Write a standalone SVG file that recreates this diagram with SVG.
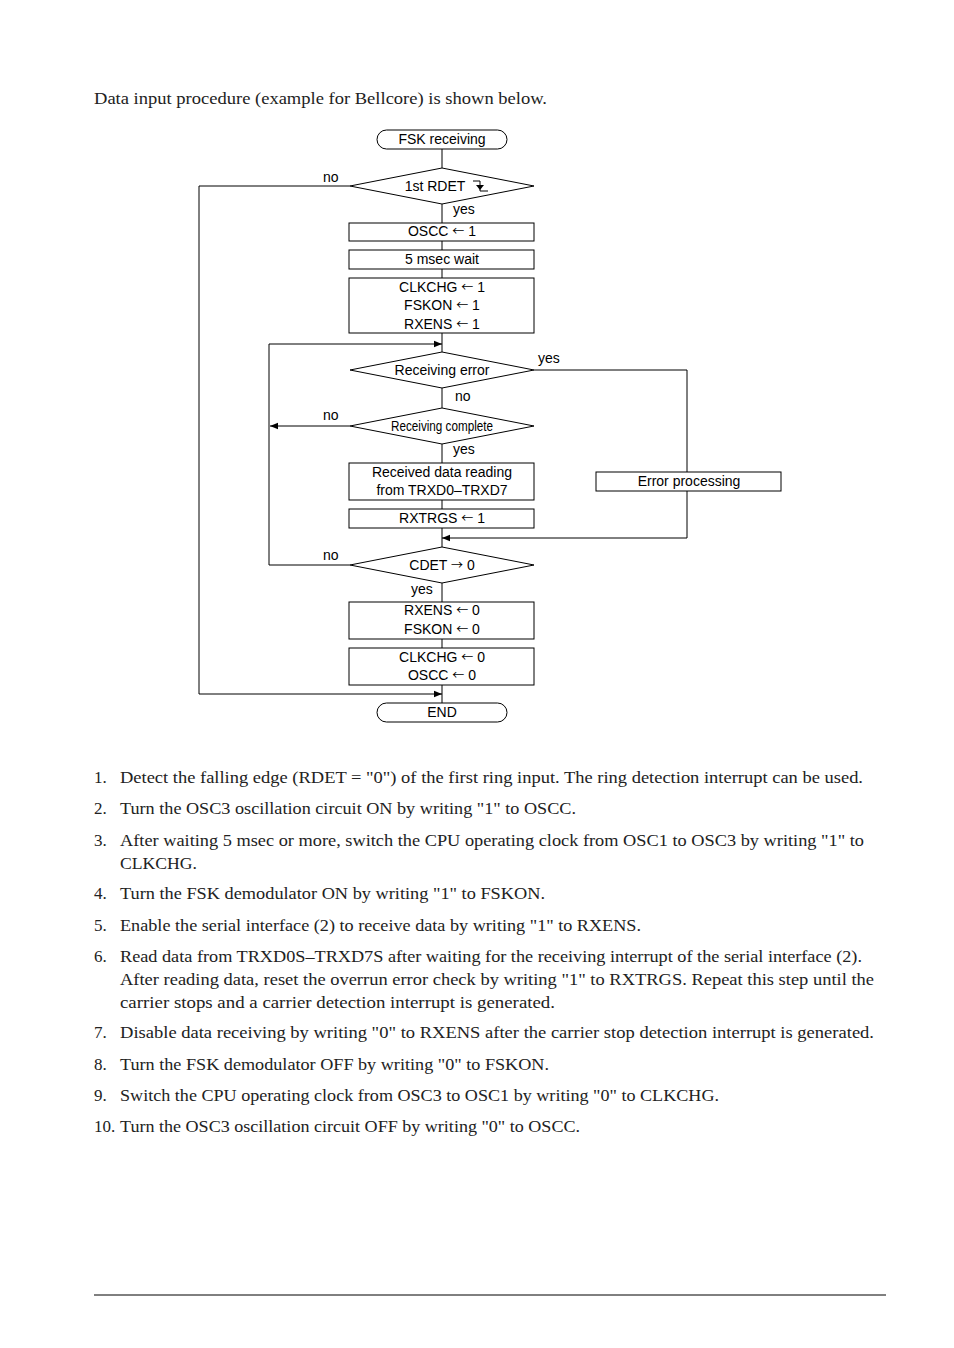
<svg xmlns="http://www.w3.org/2000/svg" width="954" height="1348" viewBox="0 0 954 1348">
<style>
.s{fill:#fff;stroke:#000;stroke-width:1}
.c{fill:none;stroke:#000;stroke-width:1}
.t{font-family:"Liberation Sans",Arial,sans-serif;font-size:14px;fill:#000;text-anchor:middle}
.l{font-family:"Liberation Sans",Arial,sans-serif;font-size:14px;fill:#000}
.p{font-family:"Liberation Serif","Times New Roman",serif;font-size:17px;fill:#222}
.ar{font-family:"Noto Sans CJK SC","DejaVu Sans",sans-serif;font-size:12px}
</style>
<defs>
<marker id="a" viewBox="0 0 10 10" refX="10" refY="5" markerWidth="10" markerHeight="8" markerUnits="userSpaceOnUse" orient="auto"><path d="M0,1 L10,5 L0,9 z" fill="#000"/></marker>
</defs>
<rect width="954" height="1348" fill="#fff"/>
<text class="p" x="94" y="104" textLength="453" lengthAdjust="spacingAndGlyphs">Data input procedure (example for Bellcore) is shown below.</text>

<g id="connectors">
<path class="c" d="M442,149 V168"/>
<path class="c" d="M442,204 V223"/>
<path class="c" d="M442,241 V250"/>
<path class="c" d="M442,269 V278"/>
<path class="c" d="M442,333 V352"/>
<path class="c" d="M442,388 V408"/>
<path class="c" d="M442,444 V463"/>
<path class="c" d="M442,500 V509"/>
<path class="c" d="M442,528 V547"/>
<path class="c" d="M442,583 V602"/>
<path class="c" d="M442,639 V648"/>
<path class="c" d="M442,685 V703"/>
<path class="c" d="M350,186 H199 V694 H442" marker-end="url(#a)"/>
<path class="c" d="M350,565 H269 V344 H442" marker-end="url(#a)"/>
<path class="c" d="M350,426 H270" marker-end="url(#a)"/>
<path class="c" d="M534,370 H687 V538 H442" marker-end="url(#a)"/>
<text class="l" x="323" y="182">no</text>
<text class="l" x="453" y="214">yes</text>
<text class="l" x="538" y="363">yes</text>
<text class="l" x="455" y="401">no</text>
<text class="l" x="323" y="420">no</text>
<text class="l" x="453" y="454">yes</text>
<text class="l" x="323" y="560">no</text>
<text class="l" x="411" y="594">yes</text>
</g>

<g id="start"><rect class="s" x="377" y="130" width="130" height="19" rx="9.5"/><text class="t" x="442" y="144">FSK receiving</text></g>
<g id="d1"><polygon class="s" points="442,168 534,186 442,204 350,186"/><text class="t" x="435" y="191">1st RDET</text>
<path class="c" d="M473,181 H480 V191 H488"/><path d="M476,185 L484,185 L480,190 z" fill="#000"/></g>
<g id="b1"><rect class="s" x="349" y="223" width="185" height="18"/><text class="t" x="442" y="236">OSCC <tspan class="ar">←</tspan> 1</text></g>
<g id="b2"><rect class="s" x="349" y="250" width="185" height="19"/><text class="t" x="442" y="264">5 msec wait</text></g>
<g id="b3"><rect class="s" x="349" y="278" width="185" height="55"/><text class="t" x="442" y="292">CLKCHG <tspan class="ar">←</tspan> 1</text><text class="t" x="442" y="310">FSKON <tspan class="ar">←</tspan> 1</text><text class="t" x="442" y="329">RXENS <tspan class="ar">←</tspan> 1</text></g>
<g id="d2"><polygon class="s" points="442,352 534,370 442,388 350,370"/><text class="t" x="442" y="375">Receiving error</text></g>
<g id="d3"><polygon class="s" points="442,408 534,426 442,444 350,426"/><text class="t" x="442" y="431" textLength="102" lengthAdjust="spacingAndGlyphs">Receiving complete</text></g>
<g id="b4"><rect class="s" x="349" y="463" width="185" height="37"/><text class="t" x="442" y="477">Received data reading</text><text class="t" x="442" y="495">from TRXD0–TRXD7</text></g>
<g id="b5"><rect class="s" x="349" y="509" width="185" height="19"/><text class="t" x="442" y="523">RXTRGS <tspan class="ar">←</tspan> 1</text></g>
<g id="err"><rect class="s" x="596" y="472" width="185" height="19"/><text class="t" x="689" y="486">Error processing</text></g>
<g id="d4"><polygon class="s" points="442,547 534,565 442,583 350,565"/><text class="t" x="442" y="570">CDET <tspan class="ar">→</tspan> 0</text></g>
<g id="b6"><rect class="s" x="349" y="602" width="185" height="37"/><text class="t" x="442" y="615">RXENS <tspan class="ar">←</tspan> 0</text><text class="t" x="442" y="634">FSKON <tspan class="ar">←</tspan> 0</text></g>
<g id="b7"><rect class="s" x="349" y="648" width="185" height="37"/><text class="t" x="442" y="662">CLKCHG <tspan class="ar">←</tspan> 0</text><text class="t" x="442" y="680">OSCC <tspan class="ar">←</tspan> 0</text></g>
<g id="end"><rect class="s" x="377" y="703" width="130" height="19" rx="9.5"/><text class="t" x="442" y="717">END</text></g>

<g id="notes">
<text class="p" x="94" y="783">1.</text><text class="p" x="120" y="783" textLength="743" lengthAdjust="spacingAndGlyphs">Detect the falling edge (RDET = "0") of the first ring input. The ring detection interrupt can be used.</text>
<text class="p" x="94" y="814">2.</text><text class="p" x="120" y="814" textLength="456" lengthAdjust="spacingAndGlyphs">Turn the OSC3 oscillation circuit ON by writing "1" to OSCC.</text>
<text class="p" x="94" y="846">3.</text><text class="p" x="120" y="846" textLength="744" lengthAdjust="spacingAndGlyphs">After waiting 5 msec or more, switch the CPU operating clock from OSC1 to OSC3 by writing "1" to</text>
<text class="p" x="120" y="869" textLength="77" lengthAdjust="spacingAndGlyphs">CLKCHG.</text>
<text class="p" x="94" y="899">4.</text><text class="p" x="120" y="899" textLength="425" lengthAdjust="spacingAndGlyphs">Turn the FSK demodulator ON by writing "1" to FSKON.</text>
<text class="p" x="94" y="931">5.</text><text class="p" x="120" y="931" textLength="521" lengthAdjust="spacingAndGlyphs">Enable the serial interface (2) to receive data by writing "1" to RXENS.</text>
<text class="p" x="94" y="962">6.</text><text class="p" x="120" y="962" textLength="742" lengthAdjust="spacingAndGlyphs">Read data from TRXD0S–TRXD7S after waiting for the receiving interrupt of the serial interface (2).</text>
<text class="p" x="120" y="985" textLength="754" lengthAdjust="spacingAndGlyphs">After reading data, reset the overrun error check by writing "1" to RXTRGS. Repeat this step until the</text>
<text class="p" x="120" y="1008" textLength="435" lengthAdjust="spacingAndGlyphs">carrier stops and a carrier detection interrupt is generated.</text>
<text class="p" x="94" y="1038">7.</text><text class="p" x="120" y="1038" textLength="754" lengthAdjust="spacingAndGlyphs">Disable data receiving by writing "0" to RXENS after the carrier stop detection interrupt is generated.</text>
<text class="p" x="94" y="1070">8.</text><text class="p" x="120" y="1070" textLength="429" lengthAdjust="spacingAndGlyphs">Turn the FSK demodulator OFF by writing "0" to FSKON.</text>
<text class="p" x="94" y="1101">9.</text><text class="p" x="120" y="1101" textLength="599" lengthAdjust="spacingAndGlyphs">Switch the CPU operating clock from OSC3 to OSC1 by writing "0" to CLKCHG.</text>
<text class="p" x="94" y="1132">10.</text><text class="p" x="120" y="1132" textLength="460" lengthAdjust="spacingAndGlyphs">Turn the OSC3 oscillation circuit OFF by writing "0" to OSCC.</text>
</g>
<line x1="94" y1="1295" x2="886" y2="1295" stroke="#000" stroke-width="1"/>
</svg>
